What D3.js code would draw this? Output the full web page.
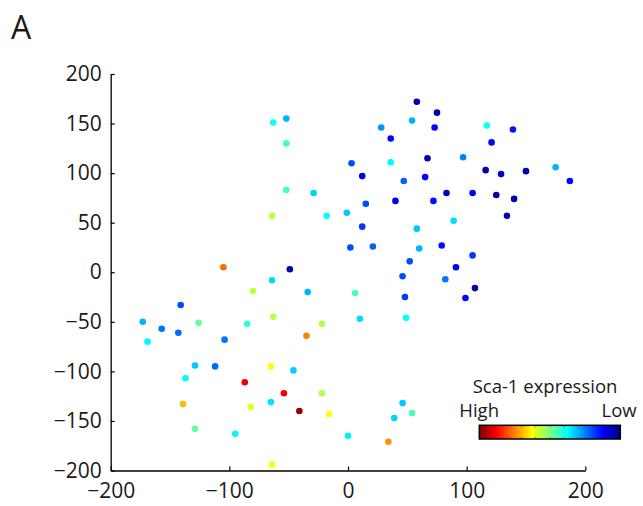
<!DOCTYPE html>
<html>
<head>
<meta charset="utf-8">
<script src="https://cdn.jsdelivr.net/npm/d3@7"></script>
<style>
  body { margin: 0; background: #fff; }
  text { font-family: "Open Sans", sans-serif; fill: #1a1a1a; }
</style>
</head>
<body>
<div id="tsne"></div>
<script>
// cell coordinates in the 2-D embedding, plus Sca-1 level (0 = low, 1 = high)
var xs = [-63, -52, -52, -52, -29, -64, -18, -1, -105, -49,
          58, 75, 54, 28, 73, 36, 117, 139, 121, 3,
          36, 67, 97, 12, 47, 65, 116, 129, 150, 175,
          187, 83, 105, 125, 140, 134, 40, 72, 15, 12,
          58, 89, 2, 21, 60, 79, 52, 105, 91, 46,
          82, 107, 48, 99, 6, 10, 49, 46, 39, 54,
          0, 34, -64, -80, -34, -141, -173, -157, -143, -169,
          -126, -104, -85, -63, -35, -22, -129, -112, -137, -65,
          -46, -87, -54, -22, -139, -82, -65, -41, -16, -129,
          -95, -64];
var ys = [151, 155, 130, 83, 80, 57, 57, 60, 5, 3,
          172, 161, 153, 146, 146, 135, 148, 144, 131, 110,
          111, 115, 116, 97, 92, 96, 103, 99, 102, 106,
          92, 80, 80, 78, 74, 57, 72, 72, 69, 46,
          44, 52, 25, 26, 24, 27, 11, 17, 5, -4,
          -7, -16, -25, -26, -21, -47, -46, -132, -147, -142,
          -165, -171, -8, -19, -20, -33, -50, -57, -61, -70,
          -51, -68, -52, -45, -64, -52, -94, -95, -107, -95,
          -99, -111, -122, -122, -133, -136, -131, -140, -143, -158,
          -163, -194];
var expr = [0.39, 0.30, 0.44, 0.44, 0.33, 0.55, 0.38, 0.32, 0.77, 0.04,
            0.04, 0.04, 0.30, 0.27, 0.13, 0.13, 0.39, 0.15, 0.13, 0.20,
            0.37, 0.04, 0.25, 0.09, 0.22, 0.13, 0.04, 0.08, 0.04, 0.30,
            0.13, 0.07, 0.12, 0.04, 0.04, 0.04, 0.10, 0.14, 0.20, 0.18,
            0.32, 0.34, 0.20, 0.22, 0.30, 0.14, 0.20, 0.18, 0.10, 0.20,
            0.24, 0.04, 0.18, 0.13, 0.45, 0.34, 0.38, 0.32, 0.33, 0.45,
            0.36, 0.73, 0.34, 0.56, 0.30, 0.20, 0.30, 0.24, 0.23, 0.37,
            0.47, 0.24, 0.42, 0.56, 0.75, 0.55, 0.32, 0.23, 0.37, 0.62,
            0.33, 0.89, 0.89, 0.55, 0.69, 0.60, 0.35, 0.98, 0.625, 0.47,
            0.37, 0.62];

var xTicks = [-200, -100, 0, 100, 200];
var yTicks = [-200, -150, -100, -50, 0, 50, 100, 150, 200];

var margin = {top: 74, right: 57.7, bottom: 35.5, left: 110.7};
var width = 643 - margin.left - margin.right;
var height = 506 - margin.top - margin.bottom;

// matlab "jet"
var jetStops = [0, 0.125, 0.375, 0.625, 0.875, 1];
var jetColors = ["#000080", "#0000ff", "#00ffff", "#ffff00", "#ff0000", "#800000"];
var jet = d3.scaleLinear().domain(jetStops).range(jetColors).interpolate(d3.interpolateRgb);

var root = d3.select("#tsne").append("svg")
    .attr("width", 643)
    .attr("height", 506);

root.append("text").attr("x", 11).attr("y", 38.7).text("A").style("font-size", "32px");

var svg = root.append("g")
    .attr("transform", "translate(" + margin.left + "," + margin.top + ")");

var x = d3.scaleLinear().domain([-200, 200]).range([0, width]);
var y = d3.scaleLinear().domain([-200, 200]).range([height, 0]);

var xAxis = d3.axisBottom(x).tickValues(xTicks).tickSizeInner(-4).tickSizeOuter(0).tickPadding(13);
var yAxis = d3.axisLeft(y).tickValues(yTicks).tickSizeInner(-4).tickSizeOuter(0).tickPadding(9);

var gx = svg.append("g").attr("transform", "translate(0," + height + ")").call(xAxis);
var gy = svg.append("g").call(yAxis);

[gx, gy].forEach(function(g) {
  g.select(".domain").attr("stroke", "#000").attr("stroke-width", 1.3);
  g.selectAll(".tick line").attr("stroke", "#000").attr("stroke-width", 1.2);
  g.selectAll(".tick text").style("font-size", "21px").attr("fill", "#1a1a1a")
    .style("font-family", "'Open Sans', sans-serif");
});

// points
svg.selectAll("circle.cell")
    .data(xs.map(function(d, i) { return {x: d, y: ys[i], v: expr[i]}; }))
  .enter().append("circle")
    .attr("class", "cell")
    .attr("cx", function(d) { return x(d.x); })
    .attr("cy", function(d) { return y(d.y); })
    .attr("r", 3.3)
    .attr("fill", function(d) { return jet(d.v); });

// colour key, high on the left (stops must run in increasing offset)
var key = {x: 479.3, y: 425.3, w: 141, h: 13.7};
var grad = root.append("defs").append("linearGradient").attr("id", "jetGrad");
jetStops.slice().reverse().forEach(function(s) {
  grad.append("stop").attr("offset", (1 - s) * 100 + "%").attr("stop-color", jet(s));
});

root.append("text").attr("x", 545).attr("y", 392.7).attr("text-anchor", "middle")
    .text("Sca-1 expression").style("font-size", "18.5px");
root.append("text").attr("x", 459.3).attr("y", 416.7).text("High").style("font-size", "18.5px");
root.append("text").attr("x", 636.7).attr("y", 416.7).attr("text-anchor", "end")
    .text("Low").style("font-size", "18.5px");

root.append("rect")
    .attr("x", key.x).attr("y", key.y)
    .attr("width", key.w).attr("height", key.h)
    .attr("fill", "url(#jetGrad)")
    .attr("stroke", "#000").attr("stroke-width", 1.5);

var keyScale = d3.scaleLinear().domain([0, 10]).range([key.x, key.x + key.w]);
d3.range(1, 10).forEach(function(k) {
  root.append("line").attr("x1", keyScale(k)).attr("x2", keyScale(k))
      .attr("y1", key.y).attr("y2", key.y + 2).attr("stroke", "#333").attr("stroke-width", 0.6);
  root.append("line").attr("x1", keyScale(k)).attr("x2", keyScale(k))
      .attr("y1", key.y + key.h - 2).attr("y2", key.y + key.h).attr("stroke", "#333").attr("stroke-width", 0.6);
});
</script>
</body>
</html>
